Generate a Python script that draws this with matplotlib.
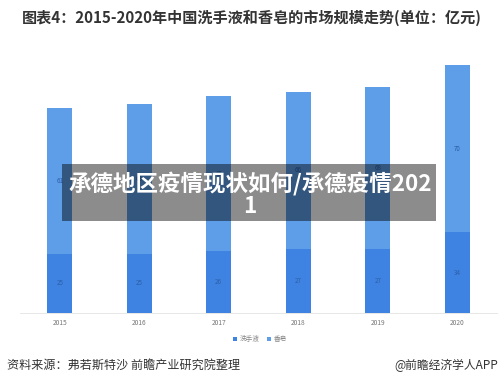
import matplotlib.pyplot as plt
from matplotlib.patches import Rectangle
import numpy as np

plt.rcParams['font.family'] = ['Noto Sans CJK SC', 'DejaVu Sans']

# data
years = ['2015', '2016', '2017', '2018', '2019', '2020']
hand_wash = [25, 25, 26, 27, 27, 34]   # 洗手液
soap = [61, 63, 65, 66, 68, 70]        # 香皂
series_names = ['洗手液', '香皂']

c_low = '#3f83e2'
c_up = '#5e9de8'

fig = plt.figure(figsize=(5, 3.85), dpi=100)
ax = fig.add_axes([0.04, 0.187, 0.954, 0.68])

x = np.arange(len(years))
w = 0.31
b1 = ax.bar(x, hand_wash, w, color=c_low, label=series_names[0])
b2 = ax.bar(x, soap, w, bottom=hand_wash, color=c_up, label=series_names[1])

for i in range(len(years)):
    ax.text(x[i], hand_wash[i] / 2, str(hand_wash[i]), ha='center', va='center',
            fontsize=4.5, color='#2b5fa8')
    ax.text(x[i], hand_wash[i] + soap[i] / 2, str(soap[i]), ha='center', va='center',
            fontsize=4.5, color='#2b5fa8')

ax.set_xlim(-0.5, 5.5)
ax.set_ylim(0, 110)
ax.set_xticks(x)
ax.set_xticklabels(years, fontsize=4.8, color='#777777')
ax.tick_params(axis='x', length=0, pad=4)
ax.set_yticks([])
for s in ['top', 'right', 'left']:
    ax.spines[s].set_visible(False)
ax.spines['bottom'].set_color('#e3e3e3')
ax.spines['bottom'].set_linewidth(0.6)

leg = fig.legend(handles=[b1, b2], loc='center', bbox_to_anchor=(0.52, 0.119),
                 ncol=2, frameon=False, fontsize=4.8, handlelength=0.6,
                 handleheight=0.6, handletextpad=0.4, columnspacing=1.0)
for t in leg.get_texts():
    t.set_color('#888888')

# title and footer
fig.text(0.044, 0.953, '图表4：2015-2020年中国洗手液和香皂的市场规模走势(单位：亿元)',
         fontsize=10.9, fontweight='bold', color='#333333', ha='left', va='center')
fig.text(0.014, 0.052, '资料来源：弗若斯特沙 前瞻产业研究院整理',
         fontsize=8.7, color='#333333', ha='left', va='center')
fig.text(0.996, 0.052, '@前瞻经济学人APP',
         fontsize=8.5, color='#333333', ha='right', va='center')

# overlay banner
fig.patches.append(Rectangle((62 / 500, 1 - 221 / 385), (436 - 62) / 500, (221 - 164) / 385,
                             transform=fig.transFigure, color='black', alpha=0.45,
                             linewidth=0, zorder=5))
fig.text(250 / 500, 1 - 195 / 385, '承德地区疫情现状如何/承德疫情202\n1',
         fontsize=16.2, fontweight='bold', color='white', ha='center', va='center',
         linespacing=1.0, zorder=6)

fig.savefig('out.png', dpi=100)
